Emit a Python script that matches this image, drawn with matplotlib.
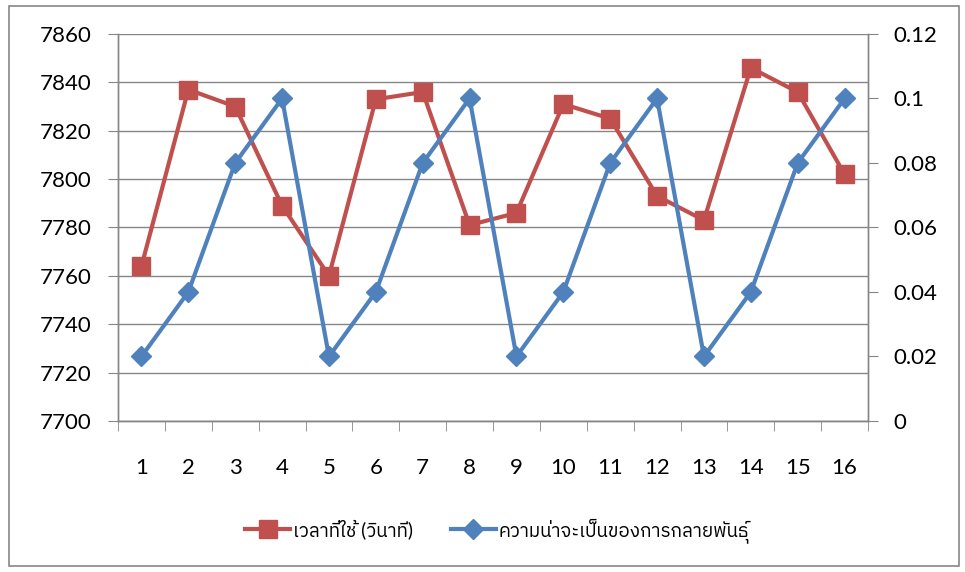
import matplotlib
matplotlib.use('Agg')
import matplotlib.pyplot as plt
from matplotlib import font_manager
from matplotlib.patches import Rectangle
import numpy as np

# data
runs = list(range(1, 17))
time_used = [7764, 7837, 7830, 7789, 7760, 7833, 7836, 7781,
             7786, 7831, 7825, 7793, 7783, 7846, 7836, 7802]
mutation_prob = [0.02, 0.04, 0.08, 0.1, 0.02, 0.04, 0.08, 0.1,
                 0.02, 0.04, 0.08, 0.1, 0.02, 0.04, 0.08, 0.1]
label_time = 'เวลาที่ใช้ (วินาที)'
label_prob = 'ความน่าจะเป็นของการกลายพันธุ์'

# pick any installed family that carries Thai glyphs
thai = sorted({f.name for f in font_manager.fontManager.ttflist if 'Thai' in f.name})
plt.rcParams['font.family'] = ['Lato'] + thai + ['DejaVu Sans']

red = '#C0504D'
blue = '#4F81BD'
grey = '#868686'

fig = plt.figure(figsize=(9.65, 5.72), dpi=100)
ax = fig.add_axes([0.1223, 0.264, 0.7772, 0.6766])
ax2 = ax.twinx()

ax.plot(runs, time_used, color=red, lw=3, marker='s', ms=13.5, zorder=3)
ax2.plot(runs, mutation_prob, color=blue, lw=3, marker='D', ms=10.5, zorder=3)

ax.set_xlim(0.5, 16.5)
ax.set_ylim(7700, 7860)
ax.set_yticks(np.arange(7700, 7861, 20))
ax2.set_ylim(0, 0.12)
ax2.set_yticks([0, 0.02, 0.04, 0.06, 0.08, 0.1, 0.12])
ax2.set_yticklabels(['0', '0.02', '0.04', '0.06', '0.08', '0.1', '0.12'])

ax.set_xticks(runs)
ax.set_xticks(np.arange(0.5, 16.6, 1), minor=True)
ax.tick_params(axis='x', which='major', length=0, pad=27, labelsize=16)
ax.tick_params(axis='x', which='minor', length=7, color=grey, direction='out')
ax.tick_params(axis='y', length=7, color=grey, pad=12, labelsize=16)
ax2.tick_params(axis='y', length=7, color=grey, pad=11, labelsize=16)

ax.grid(axis='y', color=grey, lw=1)
ax.set_axisbelow(True)
for a in (ax, ax2):
    a.spines['top'].set_visible(False)
    for s in ('left', 'right', 'bottom'):
        a.spines[s].set_color(grey)
        a.spines[s].set_linewidth(1)

h1 = plt.Line2D([], [], color=red, lw=3, marker='s', ms=13.5)
h2 = plt.Line2D([], [], color=blue, lw=3, marker='D', ms=10.5)
fig.legend([h1, h2], [label_time, label_prob], loc='center',
           bbox_to_anchor=(0.515, 0.073), ncol=2, frameon=False,
           fontsize=13.5, handlelength=2.4, handletextpad=0.15, columnspacing=2.0)

fig.patches.append(Rectangle((0.009, 0.01), 0.985, 0.98, transform=fig.transFigure,
                             fill=False, edgecolor=grey, lw=1.2))

fig.savefig('out.png', dpi=100)
